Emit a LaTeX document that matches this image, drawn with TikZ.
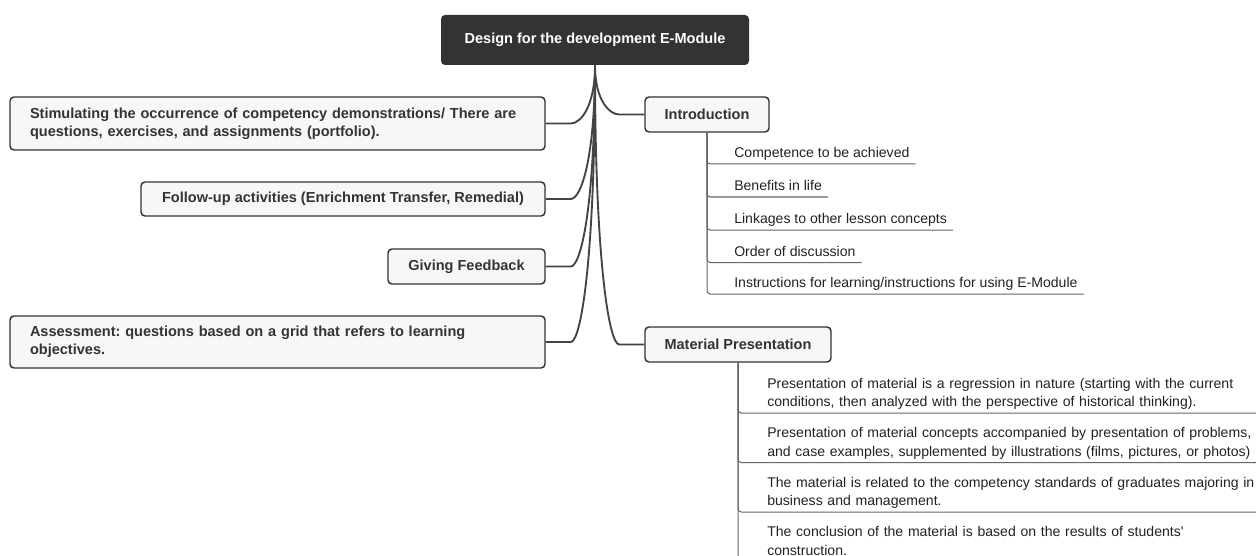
\documentclass[tikz,border=0pt]{standalone}
\usepackage{fontspec}
\setmainfont{Liberation Sans}
\frenchspacing
\usetikzlibrary{calc}
\definecolor{dark}{HTML}{333333}
\definecolor{boxfill}{HTML}{F7F7F7}
\definecolor{trunkcol}{HTML}{444444}
\definecolor{thincol}{HTML}{666666}
\definecolor{txt}{HTML}{222222}
\begin{document}
\begin{tikzpicture}[x=0.75pt,y=-0.75pt,
 rootbox/.style={fill=dark, text=white, font=\fontsize{10.9}{13}\selectfont\bfseries, rounded corners=3pt, minimum width=231pt, minimum height=37.5pt, inner sep=0pt},
 topic/.style={draw=dark, line width=1.1pt, fill=boxfill, text=dark, font=\fontsize{10.9}{13.3}\selectfont\bfseries, rounded corners=3pt, minimum height=26.25pt, inner sep=0pt},
 widetopic/.style={topic, text width=371.25pt, align=left, inner xsep=15pt, minimum height=39.75pt},
 leaf/.style={anchor=south west, inner xsep=4.5pt, inner ysep=0.4pt, font=\fontsize{10.55}{13.7}\selectfont, text=txt},
 longleaf/.style={leaf, text width=390pt, align=left},
 trunk/.style={draw=trunkcol, line width=1.4pt},
 subline/.style={draw=thincol, line width=0.75pt, rounded corners=2.5pt}]
\useasboundingbox (0,0) rectangle (1256,556);
\fill[white] (0,0) rectangle (1256,556);
\clip (0,0) rectangle (1256,556);

% root
\node[rootbox] (root) at (595,40) {Design for the development E-Module};

% right topics
\node[topic, minimum width=93pt] (intro) at (707,114.5) {Introduction};
\node[topic, minimum width=139.5pt] (mat) at (738,344.5) {Material Presentation};

% left topics
\node[widetopic] (b1) at (277.5,123.5) {Stimulating the occurrence of competency demonstrations/ There are\\questions, exercises, and assignments (portfolio).};
\node[topic, minimum width=303pt, minimum height=25.5pt] (b2) at (343,199) {Follow-up activities (Enrichment Transfer, Remedial)};
\node[topic, minimum width=117.75pt] (b3) at (466.5,266.5) {Giving Feedback};
\node[widetopic, minimum height=39pt] (b4) at (277.5,342) {Assessment: questions based on a grid that refers to learning\\objectives.};

% trunk connectors
\draw[trunk] (root.south) .. controls ($(root.south)!0.7!(root.south|-b1.east)$) and ($(root.south|-b1.east)+(-14,0)$) .. ($(b1.east)+(25,0)$) -- (b1.east);
\draw[trunk] (root.south) .. controls ($(root.south)!0.7!(root.south|-b2.east)$) and ($(root.south|-b2.east)+(-14,0)$) .. ($(b2.east)+(25,0)$) -- (b2.east);
\draw[trunk] (root.south) .. controls ($(root.south)!0.7!(root.south|-b3.east)$) and ($(root.south|-b3.east)+(-14,0)$) .. ($(b3.east)+(25,0)$) -- (b3.east);
\draw[trunk] (root.south) .. controls ($(root.south)!0.7!(root.south|-b4.east)$) and ($(root.south|-b4.east)+(-14,0)$) .. ($(b4.east)+(25,0)$) -- (b4.east);
\draw[trunk] (root.south) .. controls ($(root.south)!0.7!(root.south|-intro.west)$) and ($(root.south|-intro.west)+(14,0)$) .. ($(intro.west)+(-25,0)$) -- (intro.west);
\draw[trunk] (root.south) .. controls ($(root.south)!0.7!(root.south|-mat.west)$) and ($(root.south|-mat.west)+(14,0)$) .. ($(mat.west)+(-25,0)$) -- (mat.west);

% introduction items
\node[leaf] (i1) at (728,164) {Competence to be achieved\strut};
\node[leaf] (i2) at (728,197) {Benefits in life\strut};
\node[leaf] (i3) at (728,230) {Linkages to other lesson concepts\strut};
\node[leaf] (i4) at (728,262.5) {Order of discussion\strut};
\node[leaf] (i5) at (728,294) {Instructions for learning/instructions for using E-Module\strut};
\foreach \n in {i1,i2,i3,i4,i5} \draw[subline] (intro.south) |- (\n.south east);

% material items
\node[longleaf] (m1) at (761,413) {Presentation of material is a regression in nature (starting with the current\\conditions, then analyzed with the perspective of historical thinking).\strut};
\node[longleaf] (m2) at (761,462.5) {Presentation of material concepts accompanied by presentation of problems,\\and case examples, supplemented by illustrations (films, pictures, or photos)\strut};
\node[longleaf] (m3) at (761,512) {The material is related to the competency standards of graduates majoring in\\business and management.\strut};
\node[longleaf] (m4) at (761,561.5) {The conclusion of the material is based on the results of students\textquotesingle\\construction.\strut};
\foreach \n in {m1,m2,m3,m4} \draw[subline] (mat.south) |- (\n.south east);
\end{tikzpicture}
\end{document}
